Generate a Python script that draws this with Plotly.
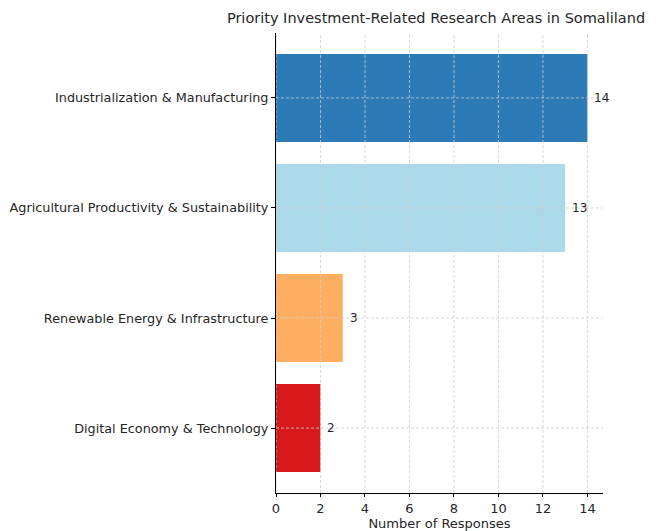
import plotly.graph_objects as go

categories = [
    "Industrialization & Manufacturing",
    "Agricultural Productivity & Sustainability",
    "Renewable Energy & Infrastructure",
    "Digital Economy & Technology",
]
responses = [14, 13, 3, 2]
colors = ["#2c7bb6", "#abd9e9", "#fdae61", "#d7191c"]
x_ticks = [0, 2, 4, 6, 8, 10, 12, 14]

font_family = "DejaVu Sans"
text_color = "#262626"
grid_color = "#cccccc"

fig = go.Figure(
    go.Bar(
        x=responses,
        y=categories,
        orientation="h",
        marker=dict(color=colors, line=dict(width=0)),
        width=0.8,
        cliponaxis=False,
    )
)

# value labels next to the bars
for cat, val in zip(categories, responses):
    fig.add_annotation(
        x=val, y=cat, xref="x", yref="y",
        text=str(val), showarrow=False,
        xanchor="left", xshift=5,
        font=dict(family=font_family, size=12, color=text_color),
    )

# dashed grid drawn above the bars
for t in x_ticks:
    fig.add_shape(type="line", xref="x", yref="paper", x0=t, x1=t, y0=0, y1=1,
                  line=dict(color=grid_color, width=0.8, dash="3px,2px"), layer="above")
for cat in categories:
    fig.add_shape(type="line", xref="paper", yref="y", x0=0, x1=1, y0=cat, y1=cat,
                  line=dict(color=grid_color, width=0.8, dash="3px,2px"), layer="above")

fig.update_layout(
    width=648,
    height=523,
    margin=dict(l=268, r=53, t=25, b=38, autoexpand=False),
    paper_bgcolor="white",
    plot_bgcolor="white",
    showlegend=False,
    font=dict(family=font_family, size=13, color=text_color),
    title=dict(
        text="Priority Investment-Related Research Areas in Somaliland",
        font=dict(family=font_family, size=14.5, color=text_color),
        x=428 / 648,
        xanchor="center",
        y=1 - 10 / 523,
        yanchor="middle",
        automargin=False,
    ),
)

fig.update_xaxes(
    range=[0, 14.7],
    tickvals=x_ticks,
    ticks="outside",
    ticklen=3,
    tickcolor="black",
    showline=True,
    linecolor="black",
    linewidth=1,
    showgrid=False,
    zeroline=False,
    automargin=False,
    title=dict(text="Number of Responses", standoff=0,
               font=dict(family=font_family, size=13, color=text_color)),
    tickfont=dict(family=font_family, size=13, color=text_color),
)

fig.update_yaxes(
    categoryorder="array",
    categoryarray=categories[::-1],
    range=[-0.59, 3.59],
    ticks="outside",
    ticklen=4,
    tickcolor="black",
    showline=True,
    linecolor="black",
    linewidth=1,
    showgrid=False,
    zeroline=False,
    automargin=False,
    tickfont=dict(family=font_family, size=12.8, color=text_color),
)

fig.write_html("out.html")
